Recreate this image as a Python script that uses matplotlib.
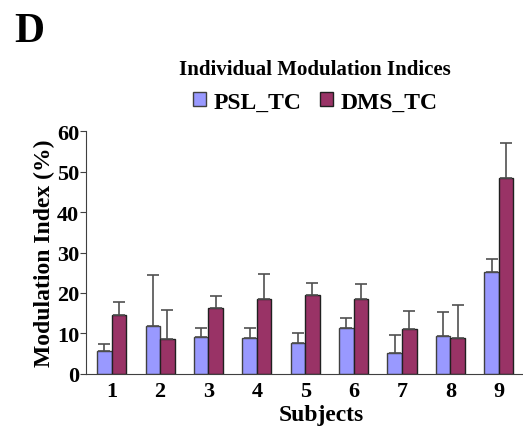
import numpy as np
import matplotlib.pyplot as plt
import matplotlib.ticker as mticker
from matplotlib.patches import Patch

subjects = ['1', '2', '3', '4', '5', '6', '7', '8', '9']
psl_mean = [5.7, 11.7, 9.0, 8.8, 7.7, 11.3, 5.1, 9.3, 25.1]
psl_err  = [1.7, 12.7, 2.2, 2.4, 2.3, 2.6, 4.4, 5.9, 3.3]
dms_mean = [14.6, 8.5, 16.2, 18.4, 19.5, 18.4, 11.0, 8.8, 48.4]
dms_err  = [3.1, 7.3, 3.0, 6.4, 3.0, 3.9, 4.6, 8.1, 8.6]

plt.rcParams['font.family'] = ['Liberation Serif', 'DejaVu Serif']
plt.rcParams['font.weight'] = 'bold'

fig = plt.figure(figsize=[5.23, 4.31], dpi=100)
ax = fig.add_axes([0.1644, 0.1306, 0.8356, 0.5624])

x = np.arange(1, len(subjects) + 1)
w = 0.3
ekw = dict(ecolor='#505050', elinewidth=1.2, capsize=4, capthick=1.2)

ax.bar(x - w/2, psl_mean, w, color='#9999FF', edgecolor='#404040', linewidth=1.0,
       yerr=[np.zeros(len(x)), psl_err], error_kw=ekw, label='PSL_TC')
ax.bar(x + w/2, dms_mean, w, color='#993366', edgecolor='#202020', linewidth=1.0,
       yerr=[np.zeros(len(x)), dms_err], error_kw=ekw, label='DMS_TC')

ax.set_xlim(0.47, 9.5)
ax.set_ylim(0, 60)
ax.set_xticks(x)
ax.set_xticklabels(subjects)
ax.yaxis.set_major_locator(mticker.MultipleLocator(10))

ax.spines['top'].set_visible(False)
ax.spines['right'].set_visible(False)
ax.spines['left'].set_color('#404040')
ax.spines['bottom'].set_color('#404040')
ax.tick_params(axis='x', length=0, labelsize=16, pad=5)
ax.tick_params(axis='y', length=4, direction='out', color='#404040', labelsize=16, pad=1)

ax.set_ylabel('Modulation Index (%)', fontsize=17, fontweight='bold', labelpad=1)
fig.text(0.615, 0.037, 'Subjects', fontsize=17, fontweight='bold', ha='center', va='center')

fig.text(0.603, 0.838, 'Individual Modulation Indices', fontsize=15, fontweight='bold',
         ha='center', va='center')

handles = [Patch(facecolor='#9999FF', edgecolor='#404040'),
           Patch(facecolor='#993366', edgecolor='#202020')]
fig.legend(handles, ['PSL_TC', 'DMS_TC'], loc='center', bbox_to_anchor=[0.603, 0.761],
           ncol=2, frameon=False, fontsize=17, handlelength=0.55, handleheight=0.55,
           handletextpad=0.3, columnspacing=0.8)

fig.text(0.028, 0.925, 'D', fontsize=30, fontweight='bold', ha='left', va='center')

fig.savefig('out.png', dpi=100)
